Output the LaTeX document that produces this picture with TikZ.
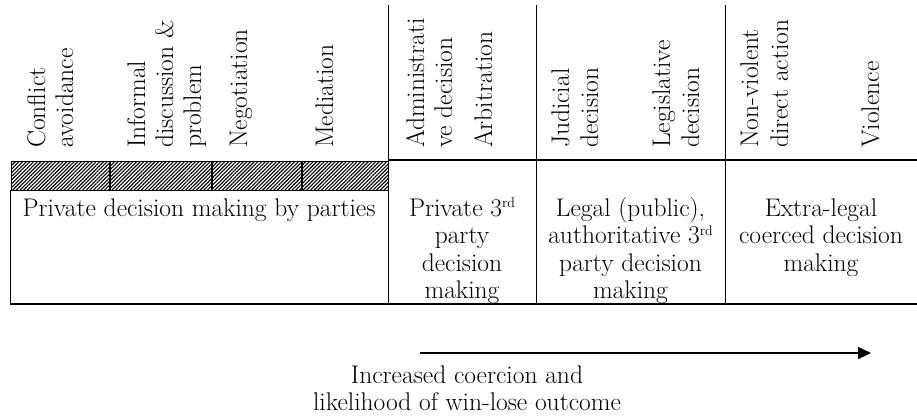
\documentclass[tikz,border=0pt]{standalone}
\usepackage{fontspec}
\usetikzlibrary{patterns.meta,arrows.meta}
\newcommand\ordsup[1]{\raisebox{0.32em}{\fontsize{14}{14}\selectfont #1}}
\tikzset{
  vlab/.style={rotate=90, anchor=base west, inner sep=0pt, font=\fontsize{25.5}{28}\selectfont},
  clab/.style={anchor=base, inner sep=0pt, font=\fontsize{25.5}{28}\selectfont},
  vline/.style={line width=0.8pt},
  hline/.style={line width=1.3pt},
  hatch/.style={pattern={Lines[angle=45,distance=2.6pt,line width=1.1pt]}, draw, line width=0.9pt},
  divider/.style={line width=1.1pt},
  trend/.style={line width=1.6pt, -{Triangle[length=13pt,width=12pt]}},
}
\begin{document}
\begin{tikzpicture}[x=1pt,y=-1pt]
\useasboundingbox (0,0) rectangle (917,416);

% hatched band
\fill[white] (11,161) rectangle (388,190);
\draw[hatch] (11,161) rectangle (388,190);
\foreach \xx in {110,212,302} \draw[divider] (\xx,161) -- (\xx,190);

% table lines
\draw[vline] (10,190) -- (10,304);
\draw[vline] (388,5) -- (388,304);
\draw[vline] (536,5) -- (536,304);
\draw[vline] (725,5) -- (725,304);
\draw[hline] (388,160) -- (917,160);
\draw[hline] (10,304) -- (917,304);

% rotated headings
\node[vlab] (h1a) at (45,148) {Conflict};
\node[vlab] (h1b) at (73,148) {avoidance};
\node[vlab] (h2a) at (145,148) {Informal};
\node[vlab] (h2b) at (173,148) {discussion \&};
\node[vlab] (h2c) at (201,148) {problem};
\node[vlab] (h3a) at (247,148) {Negotiation};
\node[vlab] (h4a) at (333,148) {Mediation};
\node[vlab] (h5a) at (424,148) {Administrati};
\node[vlab] (h5b) at (452,148) {ve decision};
\node[vlab] (h6a) at (492,148) {Arbitration};
\node[vlab] (h7a) at (569,148) {Judicial};
\node[vlab] (h7b) at (598,148) {decision};
\node[vlab] (h8a) at (670,148) {Legislative};
\node[vlab] (h8b) at (699,148) {decision};
\node[vlab] (h9a) at (758,148) {Non-violent};
\node[vlab] (h9b) at (788,148) {direct action};
\node[vlab] (h10a) at (879,148) {Violence};

% category cells
\node[clab] (p1) at (199,216) {Private decision making by parties};

\node[clab] (q1) at (462,216) {Private 3\ordsup{rd}};
\node[clab] (q2) at (462,243.5) {party};
\node[clab] (q3) at (462,271) {decision};
\node[clab] (q4) at (462,298.5) {making};

\node[clab] (r1) at (630.5,216) {Legal (public),};
\node[clab] (r2) at (630.5,243.5) {authoritative 3\ordsup{rd}};
\node[clab] (r3) at (630.5,271) {party decision};
\node[clab] (r4) at (630.5,298.5) {making};

\node[clab] (s1) at (821,216) {Extra-legal};
\node[clab] (s2) at (821,243.5) {coerced decision};
\node[clab] (s3) at (821,271) {making};

% trend arrow
\coordinate (a0) at (420,353);
\coordinate (a1) at (871,353);
\draw[trend] (a0) -- (a1);
\node[clab] (t1) at (467,383) {Increased coercion and};
\node[clab] (t2) at (467,410) {likelihood of win-lose outcome};
\end{tikzpicture}
\end{document}
